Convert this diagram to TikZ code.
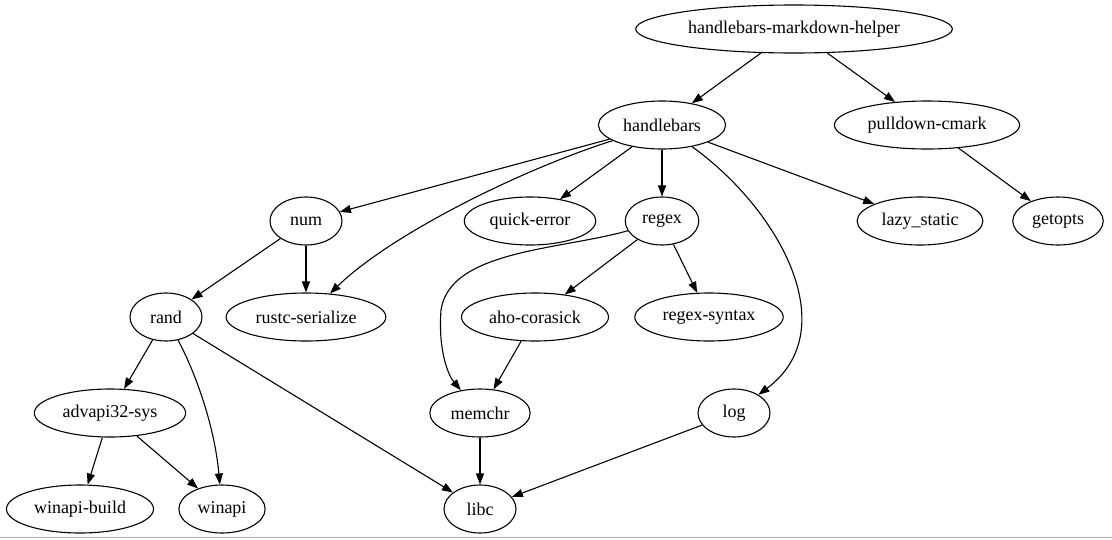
\documentclass[tikz,border=0pt]{standalone}
\usepackage{fontspec}
\setmainfont{Liberation Serif}
\usetikzlibrary{shapes.geometric,arrows.meta}
\begin{document}
\begin{tikzpicture}[x=1pt, y=-1pt,
  crate/.style={draw, ellipse, line width=1.1pt, inner xsep=6pt, inner ysep=2pt,
    minimum width=72pt, minimum height=48pt, font=\fontsize{18}{20}\selectfont},
  dep/.style={line width=1.1pt, -{Triangle[length=11pt,width=8pt]}}]
\useasboundingbox (0,0) rectangle (1112,539);
% crates, one row per rank
\node[crate] (hmh) at (794,29) {handlebars-markdown-helper};
\node[crate] (hbars) at (662,125) {handlebars};
\node[crate] (pcmark) at (927,125) {pulldown-cmark};
\node[crate] (num) at (306,221) {num};
\node[crate] (qerror) at (530,221) {quick-error};
\node[crate] (regex) at (662,221) {regex};
\node[crate] (lazy) at (920,221) {lazy\_static};
\node[crate] (getopts) at (1058,221) {getopts};
\node[crate] (rand) at (166,317) {rand};
\node[crate] (rustc) at (306,317) {rustc-serialize};
\node[crate] (aho) at (535,317) {aho-corasick};
\node[crate] (rsyntax) at (709,317) {regex-syntax};
\node[crate] (advapi) at (110,413) {advapi32-sys};
\node[crate] (memchr) at (480,413) {memchr};
\node[crate] (log) at (734,413) {log};
\node[crate] (wbuild) at (80,509) {winapi-build};
\node[crate] (winapi) at (222,509) {winapi};
\node[crate] (libc) at (480,509) {libc};
% dependencies
\draw[dep] (hmh) -- (hbars);
\draw[dep] (hmh) -- (pcmark);
\draw[dep] (hbars) -- (num);
\draw[dep] (hbars) .. controls (520,170) and (390,235) .. (rustc);
\draw[dep] (hbars) -- (qerror);
\draw[dep] (hbars) -- (regex);
\draw[dep] (hbars) -- (lazy);
\draw[dep] (hbars) .. controls (780,210) and (845,330) .. (log);
\draw[dep] (pcmark) -- (getopts);
\draw[dep] (num) -- (rand);
\draw[dep] (num) -- (rustc);
\draw[dep] (regex) .. controls (560,250) and (450,250) .. (441,310) .. controls (438,350) and (448,375) .. (memchr);
\draw[dep] (regex) -- (aho);
\draw[dep] (regex) -- (rsyntax);
\draw[dep] (rand) -- (advapi);
\draw[dep] (rand) .. controls (198,378) and (215,430) .. (winapi);
\draw[dep] (rand) -- (libc);
\draw[dep] (aho) -- (memchr);
\draw[dep] (advapi) -- (wbuild);
\draw[dep] (advapi) -- (winapi);
\draw[dep] (memchr) -- (libc);
\draw[dep] (log) -- (libc);
% frame edge
\draw[gray!60, line width=1pt] (0,537.5) -- (1112,537.5);
\end{tikzpicture}
\end{document}
